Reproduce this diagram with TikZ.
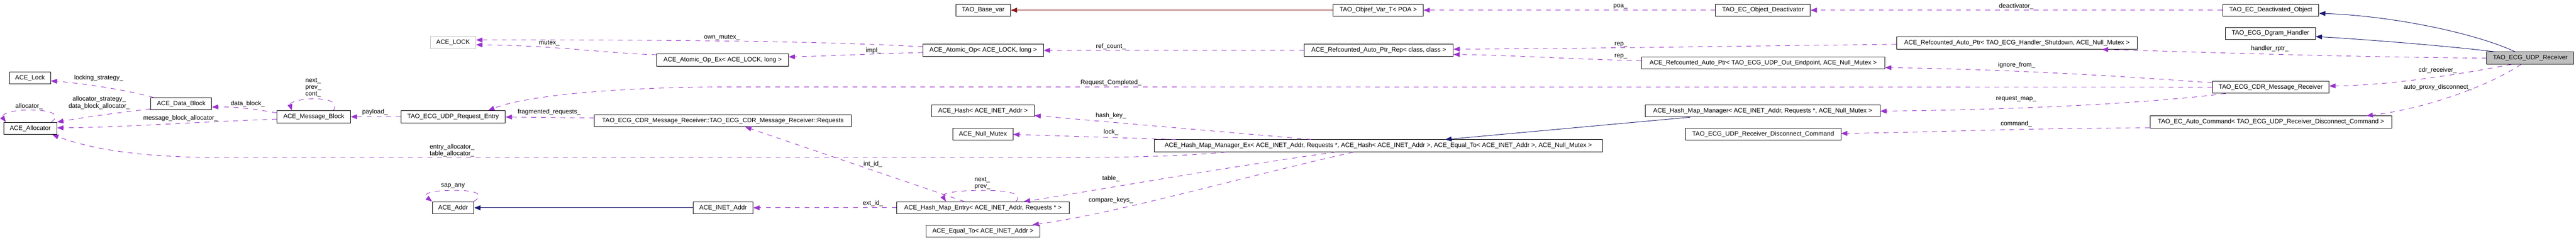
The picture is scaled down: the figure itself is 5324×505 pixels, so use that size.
\documentclass[tikz,border=0pt]{standalone}
\usepackage{fontspec}
\setmainfont{Liberation Sans}
\usetikzlibrary{arrows.meta,calc}
\definecolor{edgepurple}{HTML}{9A32CD}
\definecolor{navyblue}{HTML}{191970}
\definecolor{inhred}{HTML}{8B1A1A}
\definecolor{boxgray}{HTML}{BFBFBF}
\begin{document}
\begin{tikzpicture}[x=1pt,y=-1pt,
  cls/.style={draw=black, line width=1pt, fill=white, inner sep=0pt, minimum height=25pt,
              anchor=north west, font=\fontsize{13}{15}\selectfont, text=black},
  lbl/.style={inner sep=0pt, font=\fontsize{13}{14.5}\selectfont, align=center, text=black},
  tip/.style={-{Triangle[length=13pt,width=10pt]}},
  dep/.style={draw=edgepurple, line width=1pt, dash pattern=on 10pt off 10pt, tip},
  inh/.style={draw=navyblue, line width=1pt, tip},
  inhr/.style={draw=inhred, line width=1pt, tip}]
\useasboundingbox (0,0) rectangle (5324,505);
\fill[white] (0,0) rectangle (5324,505);

% ---------- classes ----------
\node[cls, minimum width=85pt]  (lock)    at (19,148)   {ACE\_Lock};
\node[cls, minimum width=110pt] (alloc)   at (7,252)    {ACE\_Allocator};
\node[cls, minimum width=126pt] (datab)   at (311,201)  {ACE\_Data\_Block};
\node[cls, minimum width=152pt] (msgb)    at (572,228)  {ACE\_Message\_Block};
\node[cls, minimum width=216pt] (reqent)  at (828,228)  {TAO\_ECG\_UDP\_Request\_Entry};
\node[cls, draw=boxgray, minimum width=94pt] (LOCK) at (889,75) {ACE\_LOCK};
\node[cls, minimum width=272pt] (atomex)  at (1357,111) {ACE\_Atomic\_Op\_Ex< ACE\_LOCK, long >};
\node[cls, minimum width=531pt] (requests) at (1228,236) {TAO\_ECG\_CDR\_Message\_Receiver::TAO\_ECG\_CDR\_Message\_Receiver::Requests};
\node[cls, minimum width=86pt]  (addr)    at (893,416)  {ACE\_Addr};
\node[cls, minimum width=124pt] (inet)    at (1432,416) {ACE\_INET\_Addr};
\node[cls, minimum width=113pt] (basevar) at (1975,8)   {TAO\_Base\_var};
\node[cls, minimum width=249pt] (atom)    at (1907,91)  {ACE\_Atomic\_Op< ACE\_LOCK, long >};
\node[cls, minimum width=212pt] (hash)    at (1925,216) {ACE\_Hash< ACE\_INET\_Addr >};
\node[cls, minimum width=124pt] (nullm)   at (1969,264) {ACE\_Null\_Mutex};
\node[cls, minimum width=356pt] (entry)   at (1853,416) {ACE\_Hash\_Map\_Entry< ACE\_INET\_Addr, Requests * >};
\node[cls, minimum width=236pt] (equal)   at (1913,464) {ACE\_Equal\_To< ACE\_INET\_Addr >};
\node[cls, minimum width=926pt] (hmmex)   at (2385,288) {ACE\_Hash\_Map\_Manager\_Ex< ACE\_INET\_Addr, Requests *, ACE\_Hash< ACE\_INET\_Addr >, ACE\_Equal\_To< ACE\_INET\_Addr >, ACE\_Null\_Mutex >};
\node[cls, minimum width=186pt] (objref)  at (2755,8)   {TAO\_Objref\_Var\_T< POA >};
\node[cls, minimum width=308pt] (rep)     at (2695,91)  {ACE\_Refcounted\_Auto\_Ptr\_Rep< class, class >};
\node[cls, minimum width=503pt] (outep)   at (3392,117) {ACE\_Refcounted\_Auto\_Ptr< TAO\_ECG\_UDP\_Out\_Endpoint, ACE\_Null\_Mutex >};
\node[cls, minimum width=485pt] (hmm)     at (3400,216) {ACE\_Hash\_Map\_Manager< ACE\_INET\_Addr, Requests *, ACE\_Null\_Mutex >};
\node[cls, minimum width=321pt] (disc)    at (3483,264) {TAO\_ECG\_UDP\_Receiver\_Disconnect\_Command};
\node[cls, minimum width=196pt] (deact)   at (3545,8)   {TAO\_EC\_Object\_Deactivator};
\node[cls, minimum width=498pt] (shut)    at (3919,76)  {ACE\_Refcounted\_Auto\_Ptr< TAO\_ECG\_Handler\_Shutdown, ACE\_Null\_Mutex >};
\node[cls, minimum width=199pt] (deacto)  at (4593,8)   {TAO\_EC\_Deactivated\_Object};
\node[cls, minimum width=186pt] (dgram)   at (4599,56)  {TAO\_ECG\_Dgram\_Handler};
\node[cls, minimum width=241pt] (cdr)     at (4572,167) {TAO\_ECG\_CDR\_Message\_Receiver};
\node[cls, minimum width=500pt] (autoc)   at (4443,239) {TAO\_EC\_Auto\_Command< TAO\_ECG\_UDP\_Receiver\_Disconnect\_Command >};
\node[cls, fill=boxgray, minimum width=180pt] (recv) at (5139,107) {TAO\_ECG\_UDP\_Receiver};

% ---------- connectors ----------
\draw[dep] ($(datab.north west)+(6,0)$) .. controls (250,183) and (160,171) .. ($(lock.east)+(0,6)$);
\draw[dep] ($(datab.west)+(0,11)$) .. controls (230,234) and (170,243) .. (alloc.north east);
\draw[dep] ($(alloc.north east)+(-12,0)$) .. controls (128,236) and (105,227) .. (60,227)
           .. controls (18,227) and (2,238) .. ($(alloc.north west)+(5,0)$);
\draw[dep] ($(msgb.west)+(0,5)$) .. controls (400,252) and (250,263) .. ($(alloc.east)+(0,-1)$);
\draw[dep] ($(msgb.west)+(0,-8)$) .. controls (520,224) and (480,220) .. ($(datab.east)+(0,7)$);
\draw[dep] ($(msgb.north east)+(-36,0)$) .. controls (700,212) and (682,204) .. (650,204)
           .. controls (618,204) and (598,212) .. ($(msgb.north west)+(31,0)$);
\draw[dep] (reqent.west) -- (msgb.east);
\draw[dep] ($(hmmex.south west)+(148,0)$) .. controls (2450,322) and (2350,325) .. (2200,325) -- (450,325)
           .. controls (280,325) and (180,305) .. ($(alloc.south east)+(-10,0)$);
\draw[dep] ($(atomex.north west)+(0,2)$) .. controls (1250,110) and (1150,94) .. ($(LOCK.east)+(0,4.5)$);
\draw[dep] ($(atom.west)+(0,-7.5)$) .. controls (1700,85) and (1400,82) .. ($(LOCK.east)+(0,-5.5)$);
\draw[dep] ($(atom.west)+(0,4.5)$) .. controls (1800,111) and (1700,116) .. ($(atomex.east)+(0,-6.5)$);
\draw[dep] (rep.west) -- (atom.east);
\draw[inhr] (objref.west) -- (basevar.east);
\draw[dep] (deact.west) -- (objref.east);
\draw[dep] (deacto.west) -- (deact.east);
\draw[dep] ($(shut.west)+(0,2.5)$) .. controls (3600,95) and (3300,100) .. ($(rep.east)+(0,-2.5)$);
\draw[dep] ($(outep.west)+(0,-4.5)$) .. controls (3250,122) and (3100,113) .. ($(rep.east)+(0,8.5)$);
\draw[dep] (recv.west) .. controls (4800,117) and (4500,106) .. ($(shut.south east)+(-74,0)$);
\draw[inh] ($(recv.north)+(-31,0)$) .. controls (5120,70) and (4950,33) .. ($(deacto.east)+(0,6.5)$);
\draw[inh] ($(recv.north west)+(18,0)$) .. controls (5080,97) and (4900,82) .. ($(dgram.east)+(0,6.5)$);
\draw[dep] ($(recv.south)+(-39,0)$) .. controls (5100,150) and (4950,176) .. ($(cdr.east)+(0,-2.5)$);
\draw[dep] ($(recv.south)+(-19,0)$) .. controls (5130,185) and (5000,226) .. ($(autoc.north east)+(-53,0)$);
\draw[dep] ($(cdr.north west)+(0,4)$) .. controls (4450,162) and (4200,144) .. ($(outep.east)+(0,9.5)$);
\draw[dep] (cdr.west) -- (1500,179.5) .. controls (1250,180) and (1080,200) .. ($(reqent.north east)+(-36,0)$);
\draw[dep] ($(cdr.south west)+(28,0)$) .. controls (4450,212) and (4200,226) .. ($(hmm.east)+(0,0.5)$);
\draw[dep] ($(autoc.south west)+(0,-1)$) .. controls (4200,264) and (4000,273) .. ($(disc.east)+(0,-1.5)$);
\draw[inh] ($(hmm.south west)+(93,0)$) -- ($(hmmex.north west)+(602,0)$);
\draw[dep] ($(hmmex.north west)+(325,0)$) -- ($(hash.east)+(0,9.5)$);
\draw[dep] ($(hmmex.north west)+(45,0)$) -- ($(nullm.east)+(0,0.5)$);
\draw[dep] ($(hmmex.south west)+(375,0)$) .. controls (2500,350) and (2250,396) .. ($(entry.north east)+(-94,0)$);
\draw[dep] ($(hmmex.south west)+(412,0)$) .. controls (2550,370) and (2300,442) .. ($(equal.north east)+(-16,0)$);
\draw[dep] ($(entry.north west)+(140,0)$) -- ($(requests.south west)+(312,0)$);
\draw[dep] ($(entry.north west)+(247,0)$) .. controls (2115,398) and (2080,393) .. (2030,393)
           .. controls (1972,393) and (1945,400) .. ($(entry.north west)+(102,0)$);
\draw[dep] (entry.west) -- (inet.east);
\draw[inh] (inet.west) -- (addr.east);
\draw[dep] ($(addr.north east)+(-1,0)$) .. controls (1000,403) and (990,393) .. (940,393)
           .. controls (890,393) and (872,400) .. (addr.north west);
\draw[dep] ($(requests.west)+(0,-5.5)$) -- ($(reqent.east)+(0,0.5)$);

% ---------- connector labels ----------
\node[lbl] (t1) at (204,161) {locking\_strategy\_};
\node[lbl, font=\fontsize{13}{15}\selectfont] (t2) at (205,212.5) {allocator\_strategy\_\\data\_block\_allocator\_};
\node[lbl] (t3) at (60,220) {allocator\_};
\node[lbl] (t4) at (373,244) {message\_block\_allocator\_};
\node[lbl] (t5) at (512,214) {data\_block\_};
\node[lbl, align=left, anchor=west, font=\fontsize{13}{14}\selectfont] (t6) at (631,181) {next\_\\prev\_\\cont\_};
\node[lbl] (t7) at (775,231) {payload\_};
\node[lbl] (t8) at (1135,89) {mutex\_};
\node[lbl] (t9) at (1135,231) {fragmented\_requests\_};
\node[lbl, align=left, anchor=west, font=\fontsize{13}{14}\selectfont] (t10) at (888,311) {entry\_allocator\_\\table\_allocator\_};
\node[lbl] (t11) at (936,384) {sap\_any};
\node[lbl] (t12) at (1492,77) {own\_mutex\_};
\node[lbl] (t13) at (1805,105) {impl\_};
\node[lbl] (t14) at (1804,339) {int\_id\_};
\node[lbl, align=left, anchor=west, font=\fontsize{13}{14}\selectfont] (t15) at (2014,378) {next\_\\prev\_};
\node[lbl] (t16) at (1804,420) {ext\_id\_};
\node[lbl] (t17) at (2296,96) {ref\_count\_};
\node[lbl] (t18) at (2296,171) {Request\_Completed\_};
\node[lbl] (t19) at (2296,239) {hash\_key\_};
\node[lbl] (t20) at (2296,273) {lock\_};
\node[lbl] (t21) at (2296,369) {table\_};
\node[lbl] (t22) at (2296,413) {compare\_keys\_};
\node[lbl] (t23) at (3349,13) {poa\_};
\node[lbl] (t24) at (3350,92) {rep\_};
\node[lbl] (t25) at (3350,117) {rep\_};
\node[lbl] (t26) at (4167,13) {deactivator\_};
\node[lbl] (t27) at (4168,135) {ignore\_from\_};
\node[lbl] (t28) at (4167,204) {request\_map\_};
\node[lbl] (t29) at (4167,256) {command\_};
\node[lbl] (t30) at (4691,100) {handler\_rptr\_};
\node[lbl] (t31) at (5038,145) {cdr\_receiver\_};
\node[lbl] (t32) at (5038,180) {auto\_proxy\_disconnect\_};
\end{tikzpicture}
\end{document}
